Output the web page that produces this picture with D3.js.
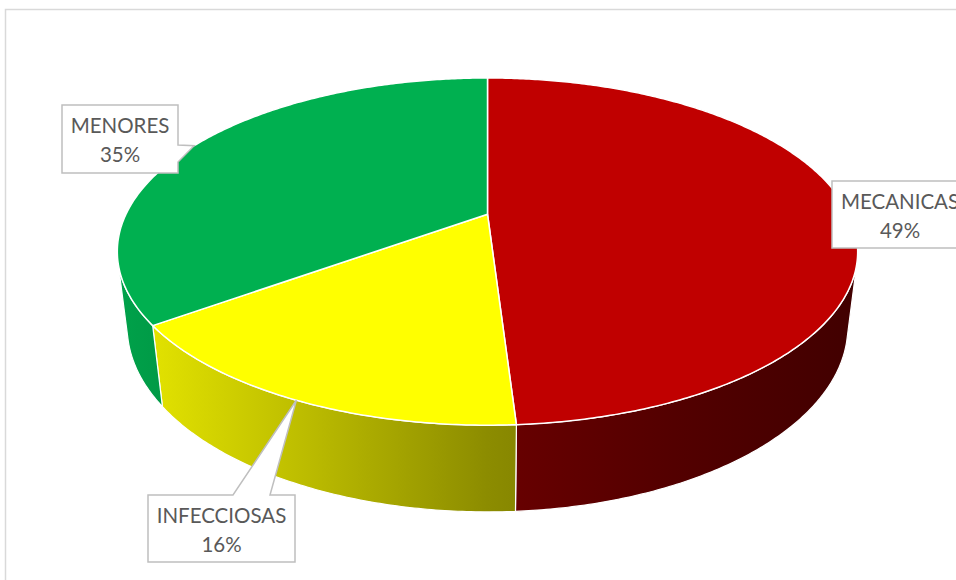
<!DOCTYPE html>
<html>
<head>
<meta charset="utf-8">
<script src="https://cdn.jsdelivr.net/npm/d3@7"></script>
<style>
  html, body { margin: 0; padding: 0; background: #fff; }
  svg { display: block; }
  text { font-family: Lato, "Open Sans", sans-serif; }
</style>
</head>
<body>
<svg id="chart" width="956" height="580"></svg>
<script>
// ---- data ----
const categories = ["MECANICAS", "INFECCIOSAS", "MENORES"];
const shares = [49, 16, 35];
const shareLabels = ["49%", "16%", "35%"];
const sliceColors = ["#c00000", "#ffff00", "#00b050"];

// ---- setup ----
const W = 956, H = 580;
const svg = d3.select("#chart");
const color = d3.scaleOrdinal(categories, sliceColors);

// chart area frame
svg.append("rect")
  .attr("x", 5.5).attr("y", 9.5)
  .attr("width", W + 20).attr("height", H + 20)
  .attr("fill", "#fff")
  .attr("stroke", "#d9d9d9").attr("stroke-width", 1.5);

// perspective view of a unit-radius disc (radius 1, thickness in radius units)
const view = { cx: 487.5, cy: 214.2, k: 361.5, elev: Math.asin(0.458), dist: 4.13, thick: 0.236 };
const ca = Math.cos(view.elev), sa = Math.sin(view.elev);

function projectXYZ(X, Y, Z) {
  const u = Y * ca - Z * sa;          // up on screen
  const v = Z * ca + Y * sa;          // toward the camera
  const s = 1 / (1 - v / view.dist);  // perspective factor
  return [view.cx + view.k * X * s, view.cy - view.k * u * s];
}
// pie angle: 0 at 12 o'clock, clockwise on screen
function projectAngle(a, y, r = 1) {
  return projectXYZ(r * Math.sin(a), y, -r * Math.cos(a));
}
function arcPoints(a0, a1, y) {
  const n = Math.max(2, Math.ceil(Math.abs(a1 - a0) / 0.01));
  return d3.range(n + 1).map(i => projectAngle(a0 + (a1 - a0) * i / n, y));
}

const pie = d3.pie().sort(null).value(d => d.value);
const arcs = pie(categories.map((c, i) => ({ name: c, value: shares[i], label: shareLabels[i] })));

// wall shading: lighter on the left, darker to the right
const defs = svg.append("defs");
const shade = [[0, 0.92], [0.25, 0.74], [0.5, 0.55], [0.75, 0.43], [1, 0.34]];
const xL = view.cx - view.k * 1.03, xR = view.cx + view.k * 1.03;
arcs.forEach((d, i) => {
  const g = defs.append("linearGradient")
    .attr("id", "wall" + i)
    .attr("gradientUnits", "userSpaceOnUse")
    .attr("x1", xL).attr("x2", xR).attr("y1", 0).attr("y2", 0);
  const base = d3.rgb(color(d.data.name));
  shade.forEach(([o, f]) => {
    g.append("stop").attr("offset", o)
      .attr("stop-color", d3.rgb(base.r * f, base.g * f, base.b * f).formatHex());
  });
});

// front-facing part of the side wall
const zFace = 1 / (view.dist * ca);
const visA0 = Math.acos(-zFace), visA1 = 2 * Math.PI - Math.acos(-zFace);
const line = d3.line();

const walls = svg.append("g");
arcs.forEach((d, i) => {
  const a0 = Math.max(d.startAngle, visA0), a1 = Math.min(d.endAngle, visA1);
  if (a1 <= a0) return;
  const pts = arcPoints(a0, a1, 0).concat(arcPoints(a1, a0, -view.thick));
  walls.append("path")
    .attr("d", line(pts) + "Z")
    .attr("fill", `url(#wall${i})`)
    .attr("stroke", "#fff").attr("stroke-width", 1.2)
    .attr("stroke-linejoin", "round");
});

// top faces
const centre = projectXYZ(0, 0, 0);
const tops = svg.append("g");
arcs.forEach(d => {
  const pts = [centre].concat(arcPoints(d.startAngle, d.endAngle, 0));
  tops.append("path")
    .attr("d", line(pts) + "Z")
    .attr("fill", color(d.data.name))
    .attr("stroke", "#fff").attr("stroke-width", 1.5)
    .attr("stroke-linejoin", "round");
});

// ---- data callouts ----
const calloutBoxes = [
  { x: 832, y: 181, w: 136, h: 67, side: null },
  { x: 148, y: 495, w: 147, h: 67, side: "top", b0: 233, b1: 270 },
  { x: 62, y: 105, w: 116, h: 68, side: "right", b0: 145, b1: 162 }
];

const labels = svg.append("g");
arcs.forEach((d, i) => {
  const b = calloutBoxes[i];
  const tip = projectAngle((d.startAngle + d.endAngle) / 2, 0);
  const p = d3.path();
  const x0 = b.x, y0 = b.y, x1 = b.x + b.w, y1 = b.y + b.h;
  p.moveTo(x0, y0);
  if (b.side === "top") {
    p.lineTo(b.b0, y0); p.lineTo(tip[0], tip[1]); p.lineTo(b.b1, y0);
  }
  p.lineTo(x1, y0);
  if (b.side === "right") {
    p.lineTo(x1, b.b0); p.lineTo(tip[0], tip[1]); p.lineTo(x1, b.b1);
  }
  p.lineTo(x1, y1);
  p.lineTo(x0, y1);
  p.closePath();
  labels.append("path")
    .attr("d", p.toString())
    .attr("fill", "#fff")
    .attr("stroke", "#bfbfbf").attr("stroke-width", 1.5)
    .attr("stroke-linejoin", "miter");
  const t = labels.append("text")
    .attr("x", b.x + b.w / 2)
    .attr("text-anchor", "middle")
    .attr("fill", "#595959")
    .attr("font-size", 20.5);
  t.append("tspan").attr("x", b.x + b.w / 2).attr("y", b.y + 27.5).text(d.data.name);
  t.append("tspan").attr("x", b.x + b.w / 2).attr("y", b.y + 57).text(d.data.label);
});
</script>
</body>
</html>
